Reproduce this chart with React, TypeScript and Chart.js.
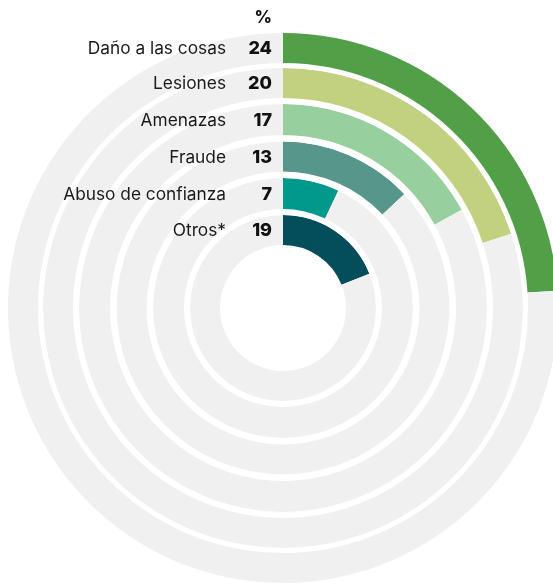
import React, { useEffect, useRef } from "react";
import { Chart, registerables } from "chart.js";

Chart.register(...registerables);

const categories = ["Daño a las cosas", "Lesiones", "Amenazas", "Fraude", "Abuso de confianza", "Otros*"];
const values = [24, 20, 17, 13, 7, 19];
const valueLabels = ["24", "20", "17", "13", "7", "19"];
const unitLabel = "%";
const totalScale = 100;
const colors = ["#519f46", "#c1d17f", "#98cf9e", "#57968a", "#00998c", "#044e5b"];
const trackColor = "#f0f0f0";

// ring thickness (relative weights) and gaps between rings
const ringWeights = [30, 30, 31, 30, 31, 30];
const gapWeights = [5, 6, 6.5, 6.5, 6];

const FONT = "Inter, 'Open Sans', 'DejaVu Sans', sans-serif";

export default function App() {
  const ref = useRef<HTMLCanvasElement | null>(null);

  useEffect(() => {
    const canvas = ref.current;
    if (!canvas) return;

    const datasets: any[] = [];
    const ringIndex: number[] = [];
    categories.forEach((cat, i) => {
      ringIndex.push(datasets.length);
      datasets.push({
        label: cat,
        data: [values[i], totalScale - values[i]],
        backgroundColor: [colors[i], trackColor],
        borderWidth: 0,
        weight: ringWeights[i],
      });
      if (i < categories.length - 1) {
        datasets.push({
          label: "gap" + i,
          data: [totalScale],
          backgroundColor: ["rgba(255,255,255,1)"],
          borderWidth: 0,
          weight: gapWeights[i],
        });
      }
    });

    const labelPlugin = {
      id: "ringLabels",
      afterDatasetsDraw(chart: any) {
        const ctx = chart.ctx;
        ctx.save();
        let topY = 0;
        let cx = 0;
        ringIndex.forEach((dsIdx, i) => {
          const arc = chart.getDatasetMeta(dsIdx).data[0];
          const { x, y, innerRadius, outerRadius } = arc.getProps(["x", "y", "innerRadius", "outerRadius"], true);
          const ly = y - (innerRadius + outerRadius) / 2 + 1;
          if (i === 0) {
            topY = y - outerRadius;
            cx = x;
          }
          ctx.textBaseline = "middle";
          ctx.textAlign = "right";
          ctx.fillStyle = "#1a1a1a";
          ctx.font = `400 17.3px ${FONT}`;
          ctx.fillText(categories[i], x - 57, ly);
          ctx.fillStyle = "#111111";
          ctx.font = `800 18px ${FONT}`;
          ctx.fillText(valueLabels[i], x - 11, ly);
        });
        ctx.font = `800 17px ${FONT}`;
        ctx.fillStyle = "#111111";
        ctx.textAlign = "right";
        ctx.textBaseline = "middle";
        ctx.fillText(unitLabel, cx - 11, topY - 15);
        ctx.restore();
      },
    };

    const chart = new Chart(canvas, {
      type: "doughnut",
      data: { labels: ["value", "rest"], datasets },
      options: {
        animation: false,
        responsive: false,
        events: [],
        radius: 275,
        cutout: "22.9%",
        rotation: 0,
        circumference: 360,
        layout: { padding: { left: 13, top: 31, right: 0, bottom: 0 } },
        plugins: {
          legend: { display: false },
          tooltip: { enabled: false },
        },
      } as any,
      plugins: [labelPlugin],
    });

    return () => chart.destroy();
  }, []);

  return (
    <div style={{ position: "absolute", left: 0, top: 0, width: 553, height: 585, background: "#fff" }}>
      <canvas ref={ref} width={553} height={585} style={{ display: "block", width: 553, height: 585 }} />
    </div>
  );
}
